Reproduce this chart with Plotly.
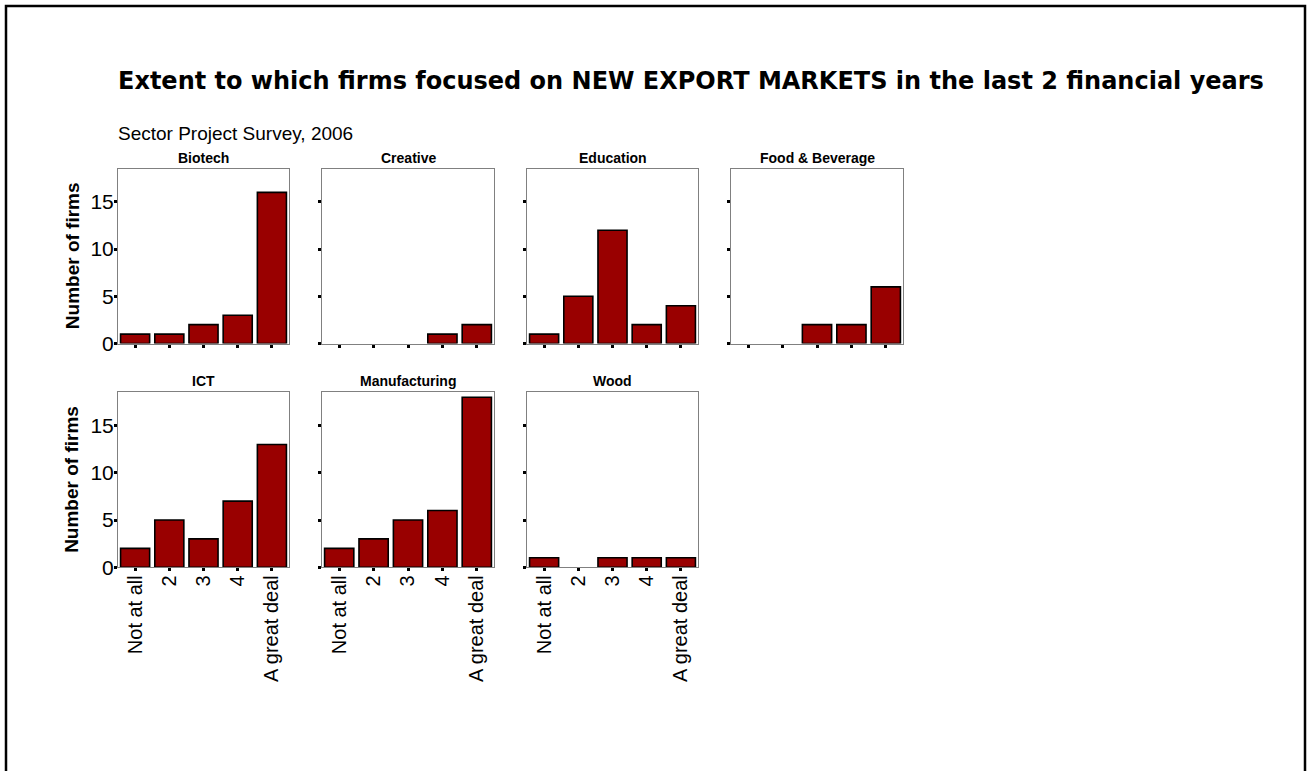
import plotly.graph_objects as go

# Survey responses: number of firms per focus level, by sector
categories = ["Not at all", "2", "3", "4", "A great deal"]
sectors = ["Biotech", "Creative", "Education", "Food & Beverage",
           "ICT", "Manufacturing", "Wood"]
biotech = [1, 1, 2, 3, 16]
creative = [0, 0, 0, 1, 2]
education = [1, 5, 12, 2, 4]
food_beverage = [0, 0, 2, 2, 6]
ict = [2, 5, 3, 7, 13]
manufacturing = [2, 3, 5, 6, 18]
wood = [1, 0, 1, 1, 1]
y_ticks = [0, 5, 10, 15]

series = [biotech, creative, education, food_beverage, ict, manufacturing, wood]

W, H = 1308, 771
H_DRAW = 761  # drawable height used for pixel -> paper conversion
FONT = "Liberation Sans, Arial, sans-serif"
TITLE_FONT = "DejaVu Sans, Liberation Sans, Arial, sans-serif"
BAR = "#990000"

# panel layout in pixels
col_x = [(118, 289), (322, 494), (527, 698), (731, 903)]
row_y = [(169, 344), (393, 568)]


def px_x(v):
    return v / W


def px_y(v):
    return 1 - v / H_DRAW


fig = go.Figure()
annotations = []

for i, (name, vals) in enumerate(zip(sectors, series)):
    r, c = divmod(i, 4)
    n = i + 1
    xa = "x" if n == 1 else f"x{n}"
    ya = "y" if n == 1 else f"y{n}"
    fig.add_trace(go.Bar(
        x=categories, y=vals, xaxis=xa, yaxis=ya,
        marker=dict(color=BAR,
                    line=dict(color="black",
                              width=[1.6 if v > 0 else 0 for v in vals])),
        width=0.85, showlegend=False, hoverinfo="x+y",
    ))
    x0, x1 = col_x[c]
    y0, y1 = row_y[r]
    show_xlabels = (r == 1)
    show_ylabels = (c == 0)
    fig.update_layout(**{
        ("xaxis" if n == 1 else f"xaxis{n}"): dict(
            domain=[px_x(x0), px_x(x1)], anchor=ya,
            categoryorder="array", categoryarray=categories,
            showline=True, linecolor="#808080", linewidth=1, mirror=True,
            ticks="outside", ticklen=3, tickwidth=3, tickcolor="black",
            showticklabels=show_xlabels, tickangle=-90,
            ticklabelstandoff=-4,
            tickfont=dict(family=FONT, size=20, color="black"),
            showgrid=False, zeroline=False, fixedrange=True,
        ),
        ("yaxis" if n == 1 else f"yaxis{n}"): dict(
            domain=[px_y(y1), px_y(y0)], anchor=xa,
            range=[0, 18.5], tickvals=y_ticks,
            showline=True, linecolor="#808080", linewidth=1, mirror=True,
            ticks="outside", ticklen=3, tickwidth=3, tickcolor="black",
            showticklabels=show_ylabels, ticklabelstandoff=-4,
            tickfont=dict(family=FONT, size=21, color="black"),
            showgrid=False, zeroline=False, fixedrange=True,
        ),
    })
    annotations.append(dict(
        text=f"<b>{name}</b>", xref="paper", yref="paper",
        x=px_x((x0 + x1) / 2), y=px_y(y0 - 1), xanchor="center", yanchor="bottom",
        showarrow=False, font=dict(family=FONT, size=14, color="black"),
    ))

for (y0, y1) in row_y:
    annotations.append(dict(
        text="<b>Number of firms</b>", xref="paper", yref="paper",
        x=px_x(72), y=px_y((y0 + y1) / 2), xanchor="center", yanchor="middle",
        textangle=-90, showarrow=False,
        font=dict(family=FONT, size=19, color="black"),
    ))

annotations.append(dict(
    text="<b>Extent to which firms focused on NEW EXPORT MARKETS in the last 2 financial years</b>",
    xref="paper", yref="paper", x=px_x(116), y=px_y(97),
    xanchor="left", yanchor="bottom", showarrow=False,
    font=dict(family=TITLE_FONT, size=24, color="black"),
))
annotations.append(dict(
    text="Sector Project Survey, 2006",
    xref="paper", yref="paper", x=px_x(116), y=px_y(146),
    xanchor="left", yanchor="bottom", showarrow=False,
    font=dict(family=FONT, size=19, color="black"),
))

fig.update_layout(
    width=W, height=H,
    margin=dict(l=0, r=0, t=0, b=0),
    paper_bgcolor="white", plot_bgcolor="white",
    annotations=annotations,
    shapes=[dict(
        type="rect", xref="paper", yref="paper",
        x0=px_x(6), x1=px_x(1305), y0=-0.05, y1=px_y(6),
        line=dict(color="black", width=2.5), fillcolor="rgba(0,0,0,0)",
    )],
)

fig.write_html("out.html")
